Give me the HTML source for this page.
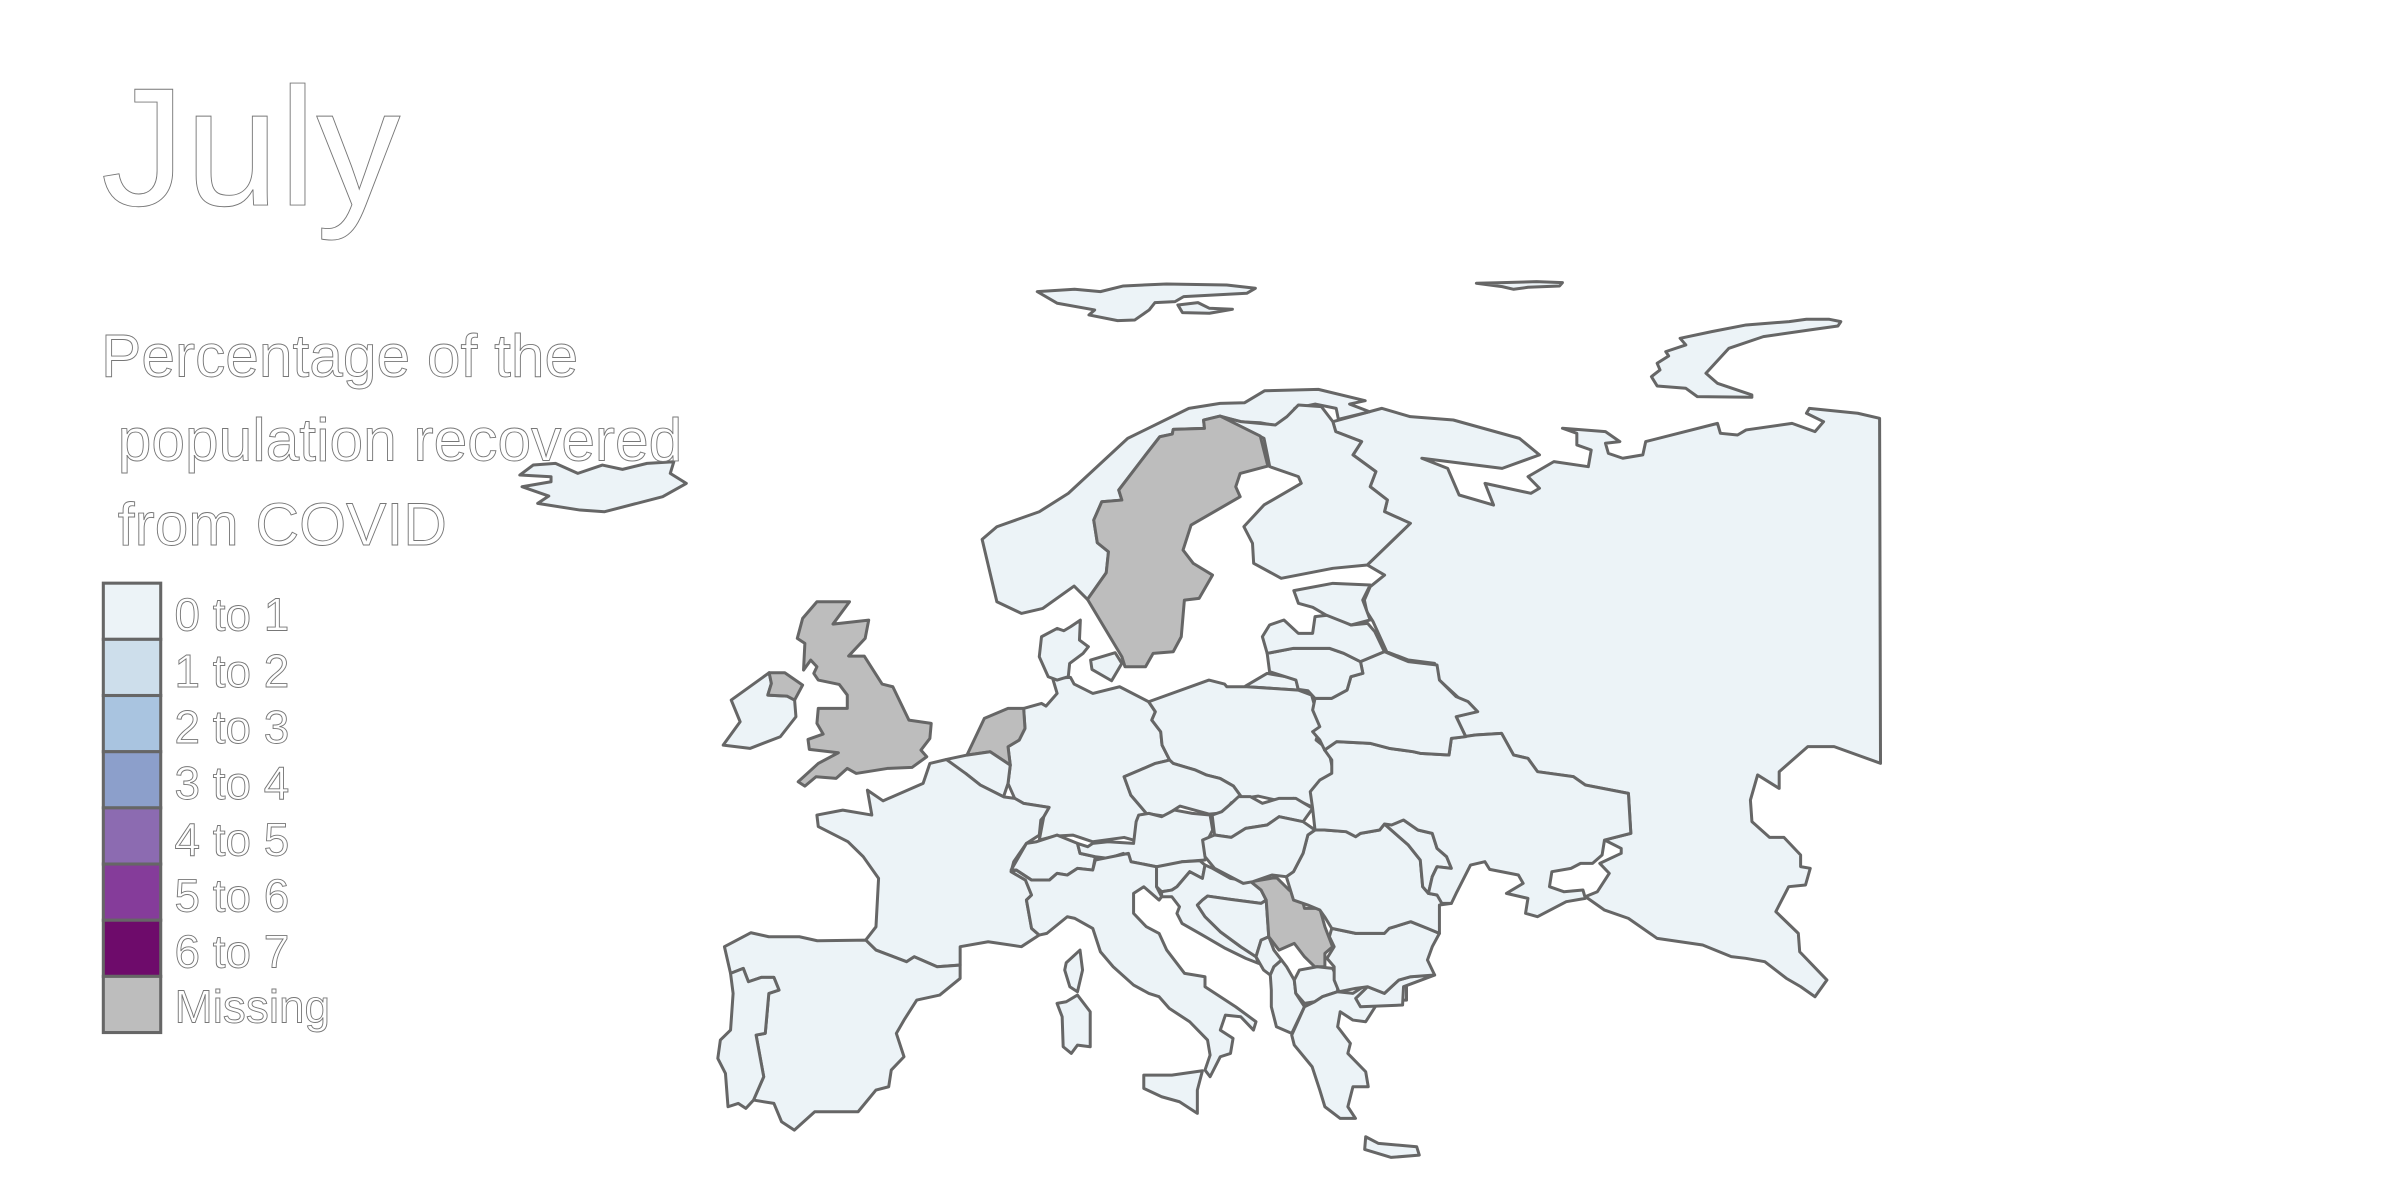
<!DOCTYPE html>
<html><head><meta charset="utf-8"><style>
html,body{margin:0;padding:0;background:#fff;}
svg{display:block;}
.t{font-family:"Liberation Sans",sans-serif;fill:#fff;stroke:#777;stroke-width:0.6;}
</style></head><body>
<svg id="map" width="2400" height="1200" viewBox="0 0 1568 784" xmlns="http://www.w3.org/2000/svg">
<rect width="1568" height="784" fill="#fff"/>
<g id="land"></g>
<text class="t" x="66" y="134" font-size="110">July</text>
<g>
<text class="t" x="66" y="246" font-size="39.5">Percentage of the</text>
<text class="t" x="66" y="301" font-size="39.5" xml:space="preserve"> population recovered</text>
<text class="t" x="66" y="356" font-size="39.5" xml:space="preserve"> from COVID</text>
</g>
<g id="legend"></g>
</svg>
<script>
// legend bins / labels
const binLabels = ["0 to 1","1 to 2","2 to 3","3 to 4","4 to 5","5 to 6","6 to 7","Missing"];
const binColors = ["#ecf3f7","#cddeeb","#a9c4e0","#8c9fcb","#8c6bb1","#853c9a","#6e0b6b","#bdbdbd"];
const binEdges = [0,1,2,3,4,5,6,7];
// per-country values (null = missing)
const countries = ["Russia","Norway","Sweden","Finland","Iceland","Ireland","United Kingdom","Denmark","Netherlands","Belgium","Germany","Poland","Czechia","Austria","Switzerland","France","Spain","Portugal","Italy","Slovenia","Croatia","Bosnia","Serbia","Montenegro","Albania","North Macedonia","Greece","Bulgaria","Romania","Moldova","Hungary","Slovakia","Ukraine","Belarus","Lithuania","Latvia","Estonia","Turkey"];
const values = [0.5,0.2,null,0.1,0.5,0.5,null,0.2,null,0.4,0.2,0.1,0.1,0.2,0.4,0.1,0.3,0.4,0.3,0.1,0.1,0.2,null,0.2,0.1,0.3,0.0,0.1,0.2,0.6,0.1,0.0,0.1,0.6,0.1,0.1,0.1,0.2];

function colorFor(v){
  if(v===null||v===undefined) return binColors[7];
  for(let i=0;i<7;i++){ if(v>=binEdges[i]&&v<binEdges[i+1]) return binColors[i]; }
  return binColors[6];
}
// shape frames: translate/scale for outline coordinate sets
const F={d:[0,0,1,1],z1:[52.27,32.67,.2917,.2178],z3:[457.3,248.3,.2917,.2178],z4:[457.3,522.7,.3333,.2178],z5:[751.3,392.0,.3126,.2178],z6:[653.3,163.3,.375,.2178]};
const G={
"Russia":[["d","870.8,275.5 902.7,266.8 921.4,272.2 949.5,274.4 992.7,286.4 1005.8,297.2 981.4,306 928.9,299.4 945.8,306 953.3,323.4 975.8,330 970.2,315.8 1000.2,322.3 1005.8,319 998.3,311.4 1015.2,301.6 1037.7,304.9 1039.6,294 1030.2,290.7 1030.2,283.1 1020.8,279.8 1048.9,282 1058.3,288.5 1048.9,289.6 1050.8,296.2 1060.2,299.4 1073.3,297.2 1075.2,288.5 1122.1,276.6 1124,283.1 1135.2,284.2 1140.8,280.9 1170.8,276.6 1185.8,282 1191.4,275.5 1180.2,270 1182.1,266.8 1213.7,270 1228,273.3 1228.6,498.7 1198.3,487.8 1181.1,487.8 1162.4,504.2 1162.4,515.1 1148.3,506.3 1143.6,522.7 1144.6,536.8 1156.1,547.1 1165.5,547.1 1176.4,558.6 1176.4,566.2 1182.7,567.3 1179.6,578.2 1168.6,579.3 1160.2,595.6 1174.9,609.8 1175.8,621.8 1193.6,640.3 1185.8,651.2 1176.4,644.6 1167.1,639.2 1153,628.3 1140.5,626.1 1131.1,625 1112.4,617.4 1082.7,613.1 1063.9,600 1048.3,594.6 1035.8,585.8 1043.6,582.6 1051.4,570.6 1045.2,564.1 1059.2,557.5 1059.2,554.3 1048.3,548.8 1065.5,544.5 1063.9,518.3 1035.8,512.9 1028,507.4 1004.5,504.2 998.3,495.5 988.9,493.3 981,479.1 963.9,480.2 957.6,481.3 951.4,468.2 963.9,465 954.5,457.3 940.4,444.3 937.3,433.4 920.1,431.2 906,425.8 897,406 893,399.6 891.4,392 895.2,383.3 904.6,375.7 893.3,369.1 921.4,341.9 904.6,334.3 906.4,326.7 895.2,317.9 898.9,308.1 884,297.2 889.6,288.5 872.7,282"],
  ["z6","1185,265 1240,245 1300,225 1375,215 1405,208 1445,208 1465,215 1460,228 1410,240 1330,260 1270,295 1230,370 1250,400 1310,435 1310,442 1215,440 1195,415 1145,408 1135,380 1150,360 1145,340 1165,318 1160,305 1195,285"],
  ["z6","830,100 875,98 935,95 980,98 975,108 920,112 895,118 875,110"],
  ["z3","1222,918 1270,880 1335,895 1340,930 1225,920"]],
"Norway":[["z3","632,478 665,440 760,395 825,340 958,175 1095,85 1165,70 1220,68 1265,32 1385,28 1490,62 1455,72 1500,95 1430,118 1425,85 1378,72 1332,85 1320,130 1295,138 1255,128 1210,125 1165,108 1128,120 1130,145 1060,148 1058,162 1030,170 998,225 938,330 945,360 900,365 882,420 890,488 915,515 910,578 868,658 838,618 768,685 720,700 665,665"],
  ["z6","65,125 130,118 175,125 215,108 290,102 395,105 445,115 430,130 320,140 305,155 270,158 260,180 235,210 205,212 155,195 165,180 100,160"],
  ["z6","310,165 345,158 365,175 405,178 365,190 318,188"]],
"Sweden":[["z3","1128,120 1165,108 1255,168 1272,258 1210,280 1200,320 1210,350 1100,435 1082,510 1105,550 1148,585 1118,655 1085,660 1078,770 1060,815 1015,820 998,860 952,860 945,830 868,658 910,578 915,515 890,488 882,420 900,365 945,360 938,330 998,225 1030,170 1058,162 1060,148 1130,145"]],
"Finland":[["z6","470,650 520,680 525,700 460,765 425,830 440,880 442,940 490,985 580,955 640,945 715,820 670,785 675,750 645,710 655,665 615,615 630,575 585,545 580,515 560,470 520,465 500,500 480,525 420,515 385,500 460,565"]],
"Iceland":[["z1","985,1275 1015,1245 1065,1240 1115,1270 1170,1245 1215,1258 1270,1240 1330,1235 1322,1270 1358,1300 1305,1340 1175,1385 1120,1380 1025,1360 1050,1338 990,1310 1055,1295 1055,1280"]],
"Ireland":[["z3","70,960 155,878 160,910 152,945 195,948 212,960 215,1010 180,1070 112,1105 52,1095 90,1025"]],
"United Kingdom":[["z3","262,665 335,665 298,732 378,720 370,775 333,828 368,828 408,912 432,920 468,1020 518,1030 515,1075 495,1110 508,1130 475,1162 420,1165 350,1180 330,1165 305,1195 260,1190 235,1218 220,1205 265,1150 310,1118 245,1108 242,1078 276,1062 262,1030 265,985 330,985 330,945 312,913 265,900 255,880 262,860 248,840 232,870 235,790 218,775 230,715"],
  ["z3","155,878 190,878 230,915 212,960 195,948 152,945 160,910"]],
"Denmark":[["z3","765,770 800,745 815,752 830,740 852,720 850,780 870,800 858,820 828,850 825,890 800,900 780,890 760,830"],["z3","875,840 930,818 945,850 922,902 878,868"]],
"Germany":[["z3","790,895 830,892 838,912 880,940 940,920 1005,965 1020,995 1012,1020 1032,1055 1035,1095 1052,1140 1020,1150 985,1170 950,1190 965,1245 1000,1300 985,1335 985,1385 950,1372 880,1385 835,1365 795,1368 760,1380 770,1310 782,1282 725,1270 705,1255 690,1210 695,1155 690,1100 715,1080 728,1045 725,985 765,970 775,978 800,940"]],
"Netherlands":[["z3","637,1015 690,985 725,985 728,1045 715,1080 690,1100 695,1155 650,1115 598,1125"]],
"Belgium":[["z3","552,1138 598,1125 650,1115 695,1155 690,1210 680,1250 628,1215 595,1180 565,1160"]],
"Poland":[["z3","1005,965 1140,900 1175,912 1180,920 1225,920 1340,930 1370,945 1390,1040 1380,1080 1408,1110 1420,1185 1370,1280 1330,1255 1290,1260 1250,1248 1215,1255 1195,1218 1165,1195 1135,1185 1110,1170 1090,1162 1060,1150 1052,1140 1035,1095 1032,1055 1012,1020 1020,995"]],
"Czechia":[["z3","950,1190 985,1170 1020,1150 1052,1140 1060,1150 1090,1162 1110,1170 1135,1185 1165,1195 1195,1218 1215,1255 1190,1268 1175,1298 1140,1302 1075,1278 1040,1308 1000,1300 965,1245"]],
"France":[["d","533.7,532.5 550.6,529.3 569.6,532.5 566.7,516.2 576.9,523.2 603.1,511.8 607.5,498.8 618.3,496.2 630.9,505.3 640.5,512.9 655.7,520.6 663,521.6 668.8,524.9 685.4,527.5 681.9,533.6 680,535.8 679,545.6 670.6,551 662.3,563 660.6,569.5 670,575 674,584.8 670.6,588 674,606.6 679,610.9 667.3,618.5 645.6,615.3 627.3,618.5 627.3,630.5 612.3,631.6 597.3,625.1 592.3,628.3 572.3,620.7 565.6,614.2 572.3,605.5 574,573.9 564,559.7 554,549.9 534.6,540"],
  ["z4","718,488 745,450 750,510 740,575 725,560 715,510"]],
"Spain":[["z4","48,440 100,398 135,410 195,410 230,422 325,420 345,450 405,485 420,470 465,500 510,495 510,535 470,585 425,600 400,660 385,700 400,770 375,810 370,860 345,870 310,935 225,935 185,990 160,965 145,910 105,900 125,830 110,705 128,700 135,580 155,570 145,532 120,532 95,545 85,505 60,520"]],
"Portugal":[["z4","60,520 85,505 95,545 120,532 145,532 155,570 135,580 128,700 110,705 125,830 105,900 90,925 75,910 55,920 50,820 35,775 40,720 60,690 65,580"]],
"Switzerland":[["z4","610,210 640,130 660,125 700,105 740,130 745,160 775,170 770,210 740,205 720,225 700,220 685,240 650,240 620,210"]],
"Austria":[["z4","860,45 880,40 905,50 930,30 965,40 1000,45 1005,90 995,120 990,180 945,185 930,192 895,200 845,185 830,160 800,175 775,170 745,160 740,130 760,140 770,130 800,125 850,130 855,65"]],
"Italy":[["z4","610,215 620,210 650,240 685,240 700,220 720,225 740,205 770,210 775,180 840,160 845,185 895,200 895,260 905,290 900,300 870,260 850,280 850,340 875,380 900,400 915,450 950,520 990,530 990,560 1050,620 1090,665 1085,690 1060,650 1030,645 1020,690 1045,715 1040,760 1020,770 1000,830 990,810 1000,765 995,720 960,665 920,625 900,590 880,580 850,555 810,500 785,455 770,385 735,355 720,350 680,400 665,405 650,385 640,300 650,285 638,240"],
  ["z4","870,825 925,825 985,812 975,870 975,940 940,905 905,890 870,865"],
  ["z4","700,610 718,605 740,585 765,635 765,740 740,735 728,760 712,740 710,650"]],
"Slovenia":[["z4","895,200 945,185 980,182 990,195 985,235 960,215 935,260 925,270 905,275 895,260"]],
"Croatia":[["z4","905,275 925,270 935,260 960,215 985,235 990,195 1005,205 1040,235 1080,245 1100,270 1110,300 1100,310 1040,298 995,288 985,300 975,315 990,350 1020,395 1060,440 1090,470 1095,490 1070,475 1030,445 985,405 945,370 935,340 940,320 925,290 905,290"]],
"Bosnia":[["z4","985,300 995,288 1040,298 1100,310 1110,300 1115,410 1100,420 1090,470 1060,440 1020,395 990,350 975,315"]],
"Serbia":[["z4","1080,245 1130,232 1155,270 1180,295 1185,325 1215,325 1225,380 1240,440 1225,460 1225,500 1205,500 1185,470 1165,430 1135,450 1115,410 1110,300 1100,270"]],
"Montenegro":[["z4","1090,470 1100,420 1115,410 1125,450 1140,480 1125,500 1118,525 1105,510"]],
"Albania":[["z4","1118,525 1125,500 1140,480 1150,500 1165,540 1168,580 1185,620 1160,700 1130,680 1120,620 1120,570"]],
"North Macedonia":[["z4","1165,540 1175,510 1210,500 1240,505 1250,535 1250,575 1220,590 1205,605 1185,610 1168,580"]],
"Greece":[["z4","1160,705 1185,620 1205,605 1220,590 1250,575 1280,580 1305,555 1385,555 1385,600 1365,600 1330,605 1305,665 1280,660 1255,635 1250,680 1275,730 1270,760 1305,815 1310,860 1280,860 1270,920 1285,955 1255,955 1225,920 1215,870 1200,800 1165,735"],
  ["z4","1305,1010 1330,1030 1405,1040 1410,1065 1355,1072 1303,1048"]],
"Bulgaria":[["z5","380,985 430,1000 490,1000 500,985 545,965 580,985 605,1000 590,1040 580,1080 595,1125 545,1130 520,1140 490,1180 455,1160 430,1165 395,1175 385,1140 385,1100 370,1075 385,1040 375,1010"]],
"Turkey":[["z5","520,1140 545,1130 595,1125 530,1160 528,1215 440,1220 430,1195 455,1160 490,1180"]],
"Romania":[["z5","345,690 365,690 410,695 430,710 440,700 480,690 490,672 540,735 565,780 570,860 582,880 600,885 630,880 630,910 605,915 605,1000 580,985 545,965 500,985 490,1000 430,1000 380,985 365,950 355,930 330,915 300,900 285,830 300,815 320,760 330,705"]],
"Moldova":[["z5","490,672 530,660 560,690 590,700 600,745 620,770 630,805 600,800 590,830 582,880 570,860 565,780 540,735"]],
"Hungary":[["z5","135,705 170,712 200,685 245,675 270,650 320,665 345,690 330,705 320,760 300,815 285,830 255,825 215,845 195,850 135,805 115,770 110,720"]],
"Slovakia":[["z5","130,645 150,635 170,610 185,590 210,590 235,610 270,595 305,595 340,625 320,665 270,650 245,675 200,685 170,712 135,705"]],
"Ukraine":[["z5","365,450 390,425 460,430 500,445 550,455 565,460 625,465 630,415 680,405 735,400 760,465 790,475 810,515 885,530 910,555 1000,580 1005,700 950,720 945,765 925,790 900,790 880,805 840,815 835,860 865,875 905,870 910,895 870,905 810,950 785,940 790,895 745,880 780,850 770,825 710,808 700,785 670,795 640,880 630,910 610,910 600,885 582,880 590,830 600,800 630,805 620,770 600,745 590,700 560,690 530,660 505,675 490,672 480,690 440,700 430,710 410,695 365,690 345,690 340,625 335,575 355,540 380,520 380,480"]],
"Belarus":[["z5","345,295 380,295 412,270 420,230 445,220 440,185 490,155 540,185 600,195 605,240 640,290 665,305 685,335 640,350 660,410 630,415 625,465 565,460 550,455 500,445 460,430 390,425 365,450 355,420 340,395 355,380 340,330"]],
"Lithuania":[["z5","245,160 300,145 375,145 405,160 440,185 445,220 420,230 412,270 380,295 345,295 330,272 310,268 305,240 250,215"]],
"Latvia":[["z5","235,110 250,75 280,60 310,100 340,100 345,50 375,45 420,75 455,70 470,95 490,155 440,185 405,160 375,145 300,145 245,160"]],
"Estonia":[["z6","512,1022 580,1000 645,1005 632,1050 645,1110 612,1125 568,1095 545,1072 520,1060"]]
};
const land=document.getElementById('land');
const NS='http://www.w3.org/2000/svg';
const order=["Russia","Norway","Finland","Sweden","Iceland","Ireland","United Kingdom","Germany","Denmark","Netherlands","Belgium","Poland","Czechia","France","Spain","Portugal","Switzerland","Austria","Italy","Slovenia","Croatia","Bosnia","Montenegro","Albania","Serbia","North Macedonia","Greece","Turkey","Bulgaria","Romania","Moldova","Slovakia","Hungary","Ukraine","Belarus","Lithuania","Latvia","Estonia"];
order.forEach(name=>{
  const idx=countries.indexOf(name);
  const fill=colorFor(idx>=0?values[idx]:null);
  const g=document.createElementNS(NS,'g');
  
  
  G[name].forEach(([fr,pts])=>{
    const f=F[fr];
    const p=document.createElementNS(NS,'polygon');
    p.setAttribute('points',pts);
    p.setAttribute('transform','translate('+f[0]+','+f[1]+') scale('+f[2]+','+f[3]+')');
    p.setAttribute('fill',fill);
    p.setAttribute('stroke','#666');
    p.setAttribute('stroke-width','3');
    p.setAttribute('stroke-linejoin','round');
    p.setAttribute('vector-effect','non-scaling-stroke');
    g.appendChild(p);
  });
  land.appendChild(g);
});
// legend
const lg=document.getElementById('legend');
const x0=67.5,y0=381,cw=37.5,ch=36.7;
binLabels.forEach((lab,i)=>{
  const r=document.createElementNS(NS,'rect');
  
  
  r.setAttribute('x',x0);r.setAttribute('y',y0+i*ch);
  r.setAttribute('width',cw);r.setAttribute('height',ch);
  r.setAttribute('fill',binColors[i]);r.setAttribute('stroke','#666');r.setAttribute('stroke-width','2');
  lg.appendChild(r);
  const t=document.createElementNS(NS,'text');
  
  
  t.setAttribute('class','t');
  t.setAttribute('x',114);t.setAttribute('y',y0+i*ch+(i===7?30:31));
  t.setAttribute('font-size','30');
  t.textContent=lab;
  lg.appendChild(t);
});
</script>
</body></html>
